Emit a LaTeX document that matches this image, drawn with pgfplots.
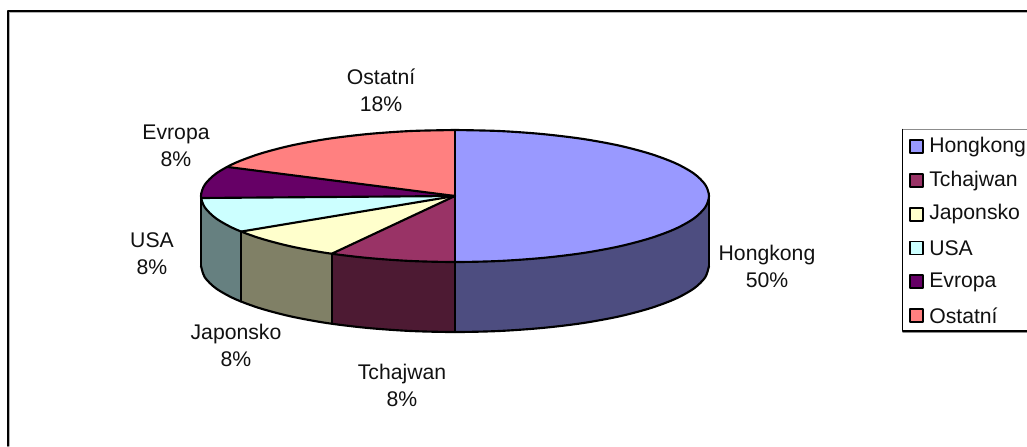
\documentclass[border=0pt]{standalone}
\usepackage{pgfplots}
\pgfplotsset{compat=1.18}
\usepackage{fontspec}
\setmainfont{Liberation Sans}
\definecolor{cHK}{HTML}{9999FF}\definecolor{cTW}{HTML}{993366}\definecolor{cJP}{HTML}{FFFFCC}
\definecolor{cUS}{HTML}{CCFFFF}\definecolor{cEU}{HTML}{660066}\definecolor{cOT}{HTML}{FF8080}
\definecolor{dHK}{HTML}{4D4D80}\definecolor{dTW}{HTML}{4D1A33}\definecolor{dJP}{HTML}{808066}\definecolor{dUS}{HTML}{668080}
\definecolor{txt}{HTML}{111111}
\tikzset{lbl/.style={font=\fontsize{15.9pt}{20.2pt}\selectfont, text=txt, align=center, inner sep=0pt},
         leg/.style={lbl, anchor=west}}
\begin{document}
\begin{tikzpicture}
\useasboundingbox (0,0) rectangle (770.25pt,334.5pt);
\begin{axis}[
  at={(0,0)}, anchor=south west,
  scale only axis, width=770.25pt, height=334.5pt,
  xmin=0, xmax=1027, ymin=0, ymax=446, y dir=reverse,
  axis lines=none, clip=true,
  line cap=round, line join=round]
% chart frame
\addplot[draw=black!30, line width=0.9pt] coordinates {(9.8,446) (9.8,12.8) (1027,12.8)};
\addplot[draw=black, line width=1.3pt] coordinates {(8.2,446) (8.2,11.2) (1027,11.2)};
% side walls
\addplot[fill=dHK, draw=none] coordinates {(709,196) (705.1,207.5) (693.7,218.6) (675,229) (649.6,238.4) (618.3,246.6) (582,253.2) (541.9,258) (499.1,261) (455,262) (455,332) (499.1,331) (541.9,328) (582,323.2) (618.3,316.6) (649.6,308.4) (675,299) (693.7,288.6) (705.1,277.5) (709,266)} --cycle;
\addplot[fill=dTW, draw=none] coordinates {(455,262) (410.9,261) (368.1,258) (332,253.6) (332,323.6) (368.1,328) (410.9,331) (455,332)} --cycle;
\addplot[fill=dJP, draw=none] coordinates {(332,253.6) (291.7,246.6) (260.4,238.4) (241,231.6) (241,301.6) (260.4,308.4) (291.7,316.6) (332,323.6)} --cycle;
\addplot[fill=dUS, draw=none] coordinates {(241,231.6) (235,229) (216.3,218.6) (204.9,207.5) (201,196) (201,266) (204.9,277.5) (216.3,288.6) (235,299) (241,301.6)} --cycle;
% top slices
\addplot[fill=cHK, draw=none] coordinates {(455,196) (455,130) (499.1,131) (541.9,134) (582,138.8) (618.3,145.4) (649.6,153.6) (675,163) (693.7,173.4) (705.1,184.5) (709,196) (705.1,207.5) (693.7,218.6) (675,229) (649.6,238.4) (618.3,246.6) (582,253.2) (541.9,258) (499.1,261) (455,262)} --cycle;
\addplot[fill=cTW, draw=none] coordinates {(455,196) (455,262) (410.9,261) (368.1,258) (332,253.6)} --cycle;
\addplot[fill=cJP, draw=none] coordinates {(455,196) (332,253.6) (291.7,246.6) (260.4,238.4) (241,231.6)} --cycle;
\addplot[fill=cUS, draw=none] coordinates {(455,196) (241,231.6) (235,229) (216.3,218.6) (204.9,207.5) (201,198)} --cycle;
\addplot[fill=cEU, draw=none] coordinates {(455,196) (201,198) (201,196) (204.9,184.5) (216.3,173.4) (227,166.9)} --cycle;
\addplot[fill=cOT, draw=none] coordinates {(455,196) (227,166.9) (235,163) (260.4,153.6) (291.7,145.4) (328,138.8) (368.1,134) (410.9,131) (455,130)} --cycle;
% outlines
\addplot[draw=black, line width=1.6pt, smooth] coordinates {(455,130) (499.1,131) (541.9,134) (582,138.8) (618.3,145.4) (649.6,153.6) (675,163) (693.7,173.4) (705.1,184.5) (709,196) (705.1,207.5) (693.7,218.6) (675,229) (649.6,238.4) (618.3,246.6) (582,253.2) (541.9,258) (499.1,261) (455,262) (410.9,261) (368.1,258) (328,253.2) (291.7,246.6) (260.4,238.4) (235,229) (216.3,218.6) (204.9,207.5) (201,196) (204.9,184.5) (216.3,173.4) (235,163) (260.4,153.6) (291.7,145.4) (328,138.8) (368.1,134) (410.9,131) (455,130)};
\addplot[draw=black, line width=1.6pt, smooth] coordinates {(709,266) (705.1,277.5) (693.7,288.6) (675,299) (649.6,308.4) (618.3,316.6) (582,323.2) (541.9,328) (499.1,331) (455,332) (410.9,331) (368.1,328) (328,323.2) (291.7,316.6) (260.4,308.4) (235,299) (216.3,288.6) (204.9,277.5) (201,266)};
\addplot[draw=black, line width=1.6pt] coordinates {(709,196) (709,266)};
\addplot[draw=black, line width=1.6pt] coordinates {(201,196) (201,266)};
\addplot[draw=black, line width=1.6pt] coordinates {(455,262) (455,332)};
\addplot[draw=black, line width=1.6pt] coordinates {(332,253.6) (332,323.6)};
\addplot[draw=black, line width=1.6pt] coordinates {(241,231.6) (241,301.6)};
\addplot[draw=black, line width=1.6pt] coordinates {(455,130) (455,262)};
\addplot[draw=black, line width=1.6pt] coordinates {(455,196) (332,253.6)};
\addplot[draw=black, line width=1.6pt] coordinates {(455,196) (241,231.6)};
\addplot[draw=black, line width=1.6pt] coordinates {(455,196) (201,198)};
\addplot[draw=black, line width=1.6pt] coordinates {(455,196) (227,166.9)};
% data labels
\node[lbl] at (axis cs:767,266) {Hongkong\\50\%};
\node[lbl] at (axis cs:402,385) {Tchajwan\\8\%};
\node[lbl] at (axis cs:236,345.5) {Japonsko\\8\%};
\node[lbl] at (axis cs:152,254) {USA\\8\%};
\node[lbl] at (axis cs:176,146) {Evropa\\8\%};
\node[lbl] at (axis cs:381,90.5) {Ostatní\\18\%};
% legend frame
\addplot[draw=black!45, line width=0.9pt] coordinates {(903,129.5) (1027,129.5)};
\addplot[draw=black!45, line width=0.9pt] coordinates {(903,332.4) (1027,332.4)};
\addplot[draw=black, line width=0.9pt] coordinates {(902.5,129.5) (902.5,331) (1027,331)};
% legend keys
\addplot[fill=cHK, draw=black, line width=1.4pt] coordinates {(910,140) (923,140) (923,153) (910,153)} --cycle;
\addplot[fill=cTW, draw=black, line width=1.4pt] coordinates {(910,174) (923,174) (923,187) (910,187)} --cycle;
\addplot[fill=cJP, draw=black, line width=1.4pt] coordinates {(910,208) (923,208) (923,221) (910,221)} --cycle;
\addplot[fill=cUS, draw=black, line width=1.4pt] coordinates {(910,241.5) (923,241.5) (923,254.5) (910,254.5)} --cycle;
\addplot[fill=cEU, draw=black, line width=1.4pt] coordinates {(910,275) (923,275) (923,288) (910,288)} --cycle;
\addplot[fill=cOT, draw=black, line width=1.4pt] coordinates {(910,309) (923,309) (923,322) (910,322)} --cycle;
\node[leg] at (axis cs:929,147) {Hongkong};
\node[leg] at (axis cs:929,181) {Tchajwan};
\node[leg] at (axis cs:929,214.5) {Japonsko};
\node[leg] at (axis cs:929,248) {USA};
\node[leg] at (axis cs:929,282) {Evropa};
\node[leg] at (axis cs:929,315.5) {Ostatní};
\end{axis}
\end{tikzpicture}
\end{document}
